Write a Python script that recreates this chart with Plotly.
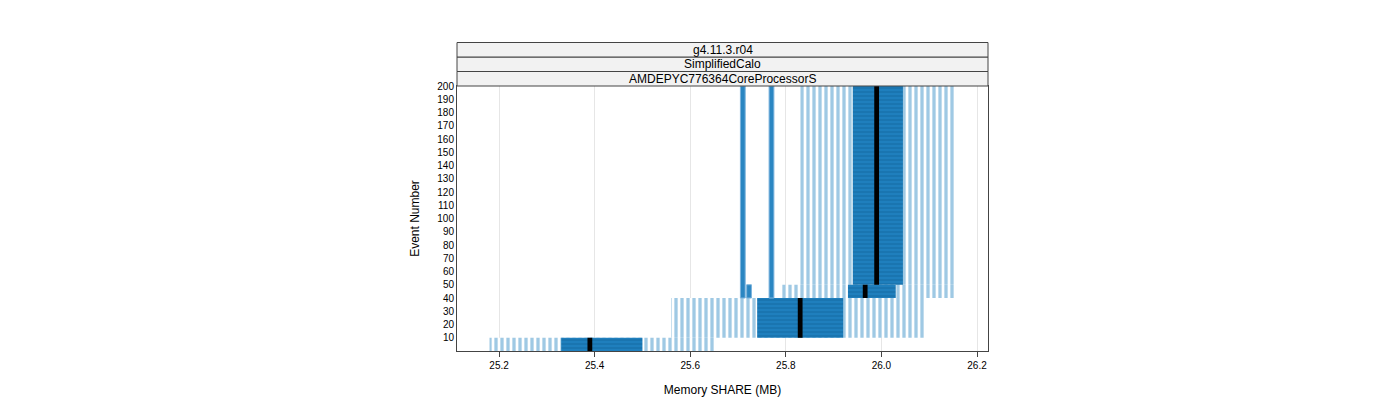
import plotly.graph_objects as go

# event segments (y from, y to)
seg_lo = [0, 10, 40, 50]
seg_hi = [10, 40, 50, 200]
whisk_lo = [25.18, 25.56, 25.79, 25.83]
whisk_hi = [25.65, 26.09, 26.156, 26.156]
box_lo = [25.33, 25.74, 25.93, 25.94]
box_hi = [25.50, 25.92, 26.03, 26.045]
median = [25.39, 25.83, 25.966, 25.99]
# thin columns
thin_x = [25.71, 25.77, 25.723]
thin_lo = [40, 40, 40]
thin_hi = [200, 200, 50]

mid = [(a + b) / 2 for a, b in zip(seg_lo, seg_hi)]
hgt = [b - a for a, b in zip(seg_lo, seg_hi)]

fig = go.Figure()
fig.add_bar(orientation="h", y=mid, width=hgt, base=whisk_lo,
            x=[b - a for a, b in zip(whisk_lo, whisk_hi)],
            marker=dict(color="white", line=dict(width=0),
                        pattern=dict(shape="|", fgcolor="#3f93c9", size=6, solidity=0.55)))
fig.add_bar(orientation="h", y=mid, width=hgt, base=box_lo,
            x=[b - a for a, b in zip(box_lo, box_hi)],
            marker=dict(color="#1f7fbd", line=dict(width=0),
                        pattern=dict(shape="-", fgcolor="#0d5c90", size=4, solidity=0.3)))
fig.add_bar(orientation="h", y=[(a + b) / 2 for a, b in zip(thin_lo, thin_hi)],
            width=[b - a for a, b in zip(thin_lo, thin_hi)],
            base=[x - 0.005 for x in thin_x], x=[0.01] * 3,
            marker=dict(color="#2a86c2", line=dict(width=1, color="#7ab3dc")))
fig.add_bar(orientation="h", y=mid, width=hgt, base=[m - 0.005 for m in median],
            x=[0.01] * 4, marker=dict(color="black", line=dict(width=0)))

fig.update_layout(
    width=1400, height=400, barmode="overlay", showlegend=False,
    plot_bgcolor="white", paper_bgcolor="white",
    margin=dict(l=449, r=420, t=78, b=57, autoexpand=False),
    font=dict(family="Liberation Sans", size=10, color="black"),
    xaxis=dict(range=[25.112, 26.223], tickvals=[25.2, 25.4, 25.6, 25.8, 26.0, 26.2],
               ticktext=["25.2", "25.4", "25.6", "25.8", "26.0", "26.2"],
               showgrid=True, gridcolor="#e6e6e6", ticks="outside", ticklen=5,
               mirror="allticks", showline=True, linecolor="#444", zeroline=False,
               automargin=False,
               title=dict(text="Memory SHARE (MB)", font=dict(size=12))),
    yaxis=dict(range=[0, 200], tickvals=list(range(10, 201, 10)), showgrid=False,
               ticks="", showline=True, linecolor="#444", mirror=True, zeroline=False,
               automargin=False,
               title=dict(text="Event Number", font=dict(size=12))),
)
strips = ["AMDEPYC776364CoreProcessorS", "SimplifiedCalo", "g4.11.3.r04"]
for i, s in enumerate(strips):
    y0 = 1 + i * 14.5 / 265
    y1 = 1 + (i + 1) * 14.5 / 265
    fig.add_shape(type="rect", xref="paper", yref="paper", x0=0, x1=1, y0=y0, y1=y1,
                  fillcolor="#f2f2f2", line=dict(color="#444", width=1))
    fig.add_annotation(xref="paper", yref="paper", x=0.5, y=(y0 + y1) / 2, text=s,
                       showarrow=False, yanchor="middle", font=dict(size=12))
fig.write_html("out.html")
